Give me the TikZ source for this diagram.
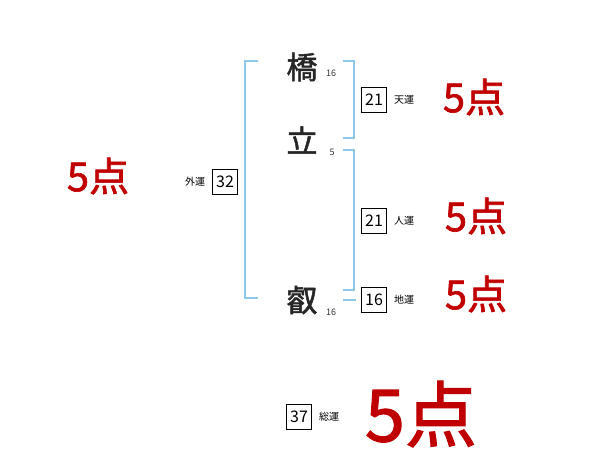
\documentclass[tikz,border=0pt]{standalone}
\usepackage{fontspec}
\usetikzlibrary{positioning}
\newfontfamily\jp{Noto Sans CJK JP}
\newfontfamily\jpthick[FakeBold=1.6]{Noto Sans CJK JP}
\definecolor{bracketblue}{HTML}{8EC8E8}
\definecolor{pointred}{HTML}{C00000}
\begin{document}
\begin{tikzpicture}[x=1pt, y=-1pt, every node/.style={font=\jp, inner sep=0pt},
        kanji/.style={font=\jpthick\fontsize{31}{31}\selectfont, text=black!85},
        strokes/.style={font=\jp\fontsize{9}{9}\selectfont, text=black!80},
        unkaku/.style={draw, line width=0.6pt, minimum width=25pt, minimum height=25pt, font=\jp\fontsize{16}{16}\selectfont},
        unname/.style={font=\jp\fontsize{10}{10}\selectfont},
        score/.style={font=\jpthick\fontsize{40}{40}\selectfont, text=pointred},
        bracket/.style={draw=bracketblue, line width=1.2pt}]
        \useasboundingbox (0,0) rectangle (600,470);

        % name characters
        \node[kanji] (c1) at (302,67) {橋};
        \node[strokes] (s1) at (331,73) {16};
        \node[kanji] (c2) at (302,140) {立};
        \node[strokes] (s2) at (332,152) {5};
        \node[kanji] (c3) at (302,300) {叡};
        \node[strokes] (s3) at (331,312) {16};

        % brackets
        \draw[bracket] (258,61) -- (245,61) -- (245,298) -- (258,298);
        \draw[bracket] (343,61) -- (354,61) -- (354,138) -- (343,138);
        \draw[bracket] (343,150) -- (354,150) -- (354,290) -- (343,290);
        \draw[bracket] (343,300) -- (356,300);

        % kaku boxes
        \node[unkaku] (gai) at (225,182) {32};
        \node[unname, left=7pt of gai] (gail) {外運};
        \node[unkaku] (ten) at (374,100) {21};
        \node[unname, right=7pt of ten] (tenl) {天運};
        \node[unkaku] (jin) at (374,221) {21};
        \node[unname, right=7pt of jin] (jinl) {人運};
        \node[unkaku] (chi) at (374,300) {16};
        \node[unname, right=7pt of chi] (chil) {地運};
        \node[unkaku] (sou) at (299,417) {37};
        \node[unname, right=7pt of sou] (soul) {総運};

        % scores
        \node[score] (pgai) at (98,176) {5点};
        \node[score] (pten) at (474,97) {5点};
        \node[score] (pjin) at (476,216) {5点};
        \node[score] (pchi) at (476,294) {5点};
        \node[score, font=\jpthick\fontsize{72}{72}\selectfont] (psou) at (421,414) {5点};
    \end{tikzpicture}
\end{document}
